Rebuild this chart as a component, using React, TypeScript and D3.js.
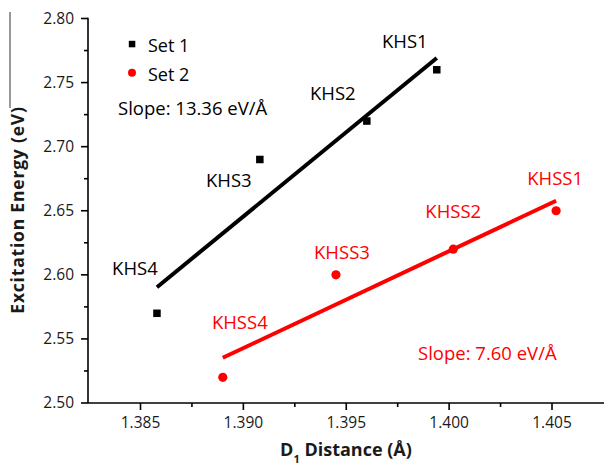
import React, { useRef, useEffect } from "react";
import * as d3 from "d3";

// distances (Å) and excitation energies (eV)
const set1X = [1.3858, 1.3908, 1.396, 1.3994];
const set1Y = [2.57, 2.69, 2.72, 2.76];
const set1Labels = ["KHS4", "KHS3", "KHS2", "KHS1"];

const set2X = [1.389, 1.3945, 1.4002, 1.4052];
const set2Y = [2.52, 2.6, 2.62, 2.65];
const set2Labels = ["KHSS4", "KHSS3", "KHSS2", "KHSS1"];

const xTicks = [1.385, 1.39, 1.395, 1.4, 1.405];
const xMinorTicks = [1.3875, 1.3925, 1.3975, 1.4025];
const yTicks = [2.5, 2.55, 2.6, 2.65, 2.7, 2.75, 2.8];
const yMinorTicks = [2.525, 2.575, 2.625, 2.675, 2.725, 2.775];

const seriesNames = ["Set 1", "Set 2"];
const slopeTexts = ["Slope: 13.36 eV/\u00c5", "Slope: 7.60 eV/\u00c5"];

const FONT = "'Open Sans', sans-serif";
const RED = "#ff0000";

// least squares line through one set
function fit(xs: number[], ys: number[]) {
  const mx = d3.mean(xs) as number;
  const my = d3.mean(ys) as number;
  let sxy = 0;
  let sxx = 0;
  xs.forEach((x, i) => {
    sxy += (x - mx) * (ys[i] - my);
    sxx += (x - mx) * (x - mx);
  });
  const b = sxy / sxx;
  return (x: number) => my + b * (x - mx);
}

export default function App() {
  const ref = useRef<SVGSVGElement>(null);

  useEffect(() => {
    const width = 604;
    const height = 471;
    const svg = d3.select(ref.current);
    svg.selectAll("*").remove();

    const x = d3.scaleLinear().domain([1.385, 1.405]).range([140.5, 552]);
    const y = d3.scaleLinear().domain([2.5, 2.8]).range([403, 18.5]);
    const left = 88;
    const right = 612;
    const bottom = y(2.5);
    const top = y(2.8);

    // axes
    const ax = svg.append("g").attr("stroke", "#000").attr("stroke-width", 1.6);
    ax.append("line").attr("x1", left).attr("x2", right).attr("y1", bottom).attr("y2", bottom);
    ax.append("line").attr("x1", left).attr("x2", left).attr("y1", top - 0.8).attr("y2", bottom);

    ax.selectAll(".xt")
      .data(xTicks)
      .join("line")
      .attr("x1", (d) => x(d))
      .attr("x2", (d) => x(d))
      .attr("y1", bottom)
      .attr("y2", bottom + 7);
    ax.selectAll(".xm")
      .data(xMinorTicks)
      .join("line")
      .attr("x1", (d) => x(d))
      .attr("x2", (d) => x(d))
      .attr("y1", bottom)
      .attr("y2", bottom + 4);
    ax.selectAll(".yt")
      .data(yTicks)
      .join("line")
      .attr("x1", left - 7)
      .attr("x2", left)
      .attr("y1", (d) => y(d))
      .attr("y2", (d) => y(d));
    ax.selectAll(".ym")
      .data(yMinorTicks)
      .join("line")
      .attr("x1", left - 4)
      .attr("x2", left)
      .attr("y1", (d) => y(d))
      .attr("y2", (d) => y(d));

    const fmt = d3.format(".3f");
    svg
      .append("g")
      .selectAll("text")
      .data(xTicks)
      .join("text")
      .attr("x", (d) => x(d))
      .attr("y", 428)
      .attr("text-anchor", "middle")
      .attr("font-family", FONT)
      .attr("font-size", 15.5)
      .attr("fill", "#1a1a1a")
      .text((d) => fmt(d));
    svg
      .append("g")
      .selectAll("text")
      .data(yTicks)
      .join("text")
      .attr("x", 74)
      .attr("y", (d) => y(d))
      .attr("dy", "0.35em")
      .attr("text-anchor", "end")
      .attr("font-family", FONT)
      .attr("font-size", 15.5)
      .attr("fill", "#1a1a1a")
      .text((d) => d3.format(".2f")(d));

    // axis titles
    const xt = svg
      .append("text")
      .attr("x", 346)
      .attr("y", 456)
      .attr("text-anchor", "middle")
      .attr("font-family", FONT)
      .attr("font-size", 18)
      .attr("font-weight", "bold")
      .attr("fill", "#1a1a1a");
    xt.append("tspan").text("D");
    xt.append("tspan").attr("font-size", 11).attr("dy", 7).text("1");
    xt.append("tspan").attr("dy", -7).text(" Distance (\u00c5)");

    svg
      .append("text")
      .attr("transform", "translate(24,210) rotate(-90)")
      .attr("text-anchor", "middle")
      .attr("font-family", FONT)
      .attr("font-size", 17.5)
      .attr("font-weight", "bold")
      .attr("letter-spacing", 0.8)
      .attr("fill", "#1a1a1a")
      .text("Excitation Energy (eV)");
    svg
      .append("line")
      .attr("x1", 10)
      .attr("x2", 10)
      .attr("y1", 12)
      .attr("y2", 108)
      .attr("stroke", "#333")
      .attr("stroke-width", 1);

    // fitted lines
    const f1 = fit(set1X, set1Y);
    const f2 = fit(set2X, set2Y);
    const line = d3
      .line<number>()
      .x((d) => x(d));
    svg
      .append("path")
      .attr("d", line.y((d) => y(f1(d)))(d3.extent(set1X) as number[]))
      .attr("stroke", "#000")
      .attr("stroke-width", 4)
      .attr("fill", "none");
    svg
      .append("path")
      .attr("d", line.y((d) => y(f2(d)))(d3.extent(set2X) as number[]))
      .attr("stroke", RED)
      .attr("stroke-width", 4)
      .attr("fill", "none");

    // points
    svg
      .append("g")
      .selectAll("rect")
      .data(set1X)
      .join("rect")
      .attr("x", (d) => x(d) - 3.75)
      .attr("y", (d, i) => y(set1Y[i]) - 3.75)
      .attr("width", 7.5)
      .attr("height", 7.5)
      .attr("fill", "#000");
    svg
      .append("g")
      .selectAll("circle")
      .data(set2X)
      .join("circle")
      .attr("cx", (d) => x(d))
      .attr("cy", (d, i) => y(set2Y[i]))
      .attr("r", 4.6)
      .attr("fill", RED);

    // point labels, offsets from the marker
    const off1 = [[-22, -38], [-31, 28], [-34, -21], [-32, -22]];
    const off2 = [[17, -48], [6, -16], [0, -31], [-1, -26]];
    svg
      .append("g")
      .selectAll("text")
      .data(set1Labels)
      .join("text")
      .attr("x", (d, i) => x(set1X[i]) + off1[i][0])
      .attr("y", (d, i) => y(set1Y[i]) + off1[i][1])
      .attr("text-anchor", "middle")
      .attr("font-family", FONT)
      .attr("font-size", 18.5)
      .attr("fill", "#000")
      .text((d) => d);
    svg
      .append("g")
      .selectAll("text")
      .data(set2Labels)
      .join("text")
      .attr("x", (d, i) => x(set2X[i]) + off2[i][0])
      .attr("y", (d, i) => y(set2Y[i]) + off2[i][1])
      .attr("text-anchor", "middle")
      .attr("font-family", FONT)
      .attr("font-size", 18.5)
      .attr("fill", RED)
      .text((d) => d);

    // slope notes
    svg
      .append("text")
      .attr("x", 118)
      .attr("y", 115)
      .attr("font-family", FONT)
      .attr("font-size", 18.5)
      .attr("fill", "#000")
      .text(slopeTexts[0]);
    svg
      .append("text")
      .attr("x", 418)
      .attr("y", 360)
      .attr("font-family", FONT)
      .attr("font-size", 18.5)
      .attr("fill", RED)
      .text(slopeTexts[1]);

    // legend
    const lg = svg.append("g");
    lg.append("rect").attr("x", 128.8).attr("y", 40.8).attr("width", 6.5).attr("height", 6.5).attr("fill", "#000");
    lg.append("circle").attr("cx", 132).attr("cy", 72.7).attr("r", 4).attr("fill", RED);
    lg.selectAll("text")
      .data(seriesNames)
      .join("text")
      .attr("x", 148)
      .attr("y", (d, i) => 52 + i * 28.7)
      .attr("font-family", FONT)
      .attr("font-size", 18)
      .attr("fill", "#000")
      .text((d) => d);

    svg.attr("width", width).attr("height", height);
  }, []);

  return (
    <svg
      ref={ref}
      width={604}
      height={471}
      style={{ position: "absolute", left: 0, top: 0, background: "#fff" }}
    />
  );
}
